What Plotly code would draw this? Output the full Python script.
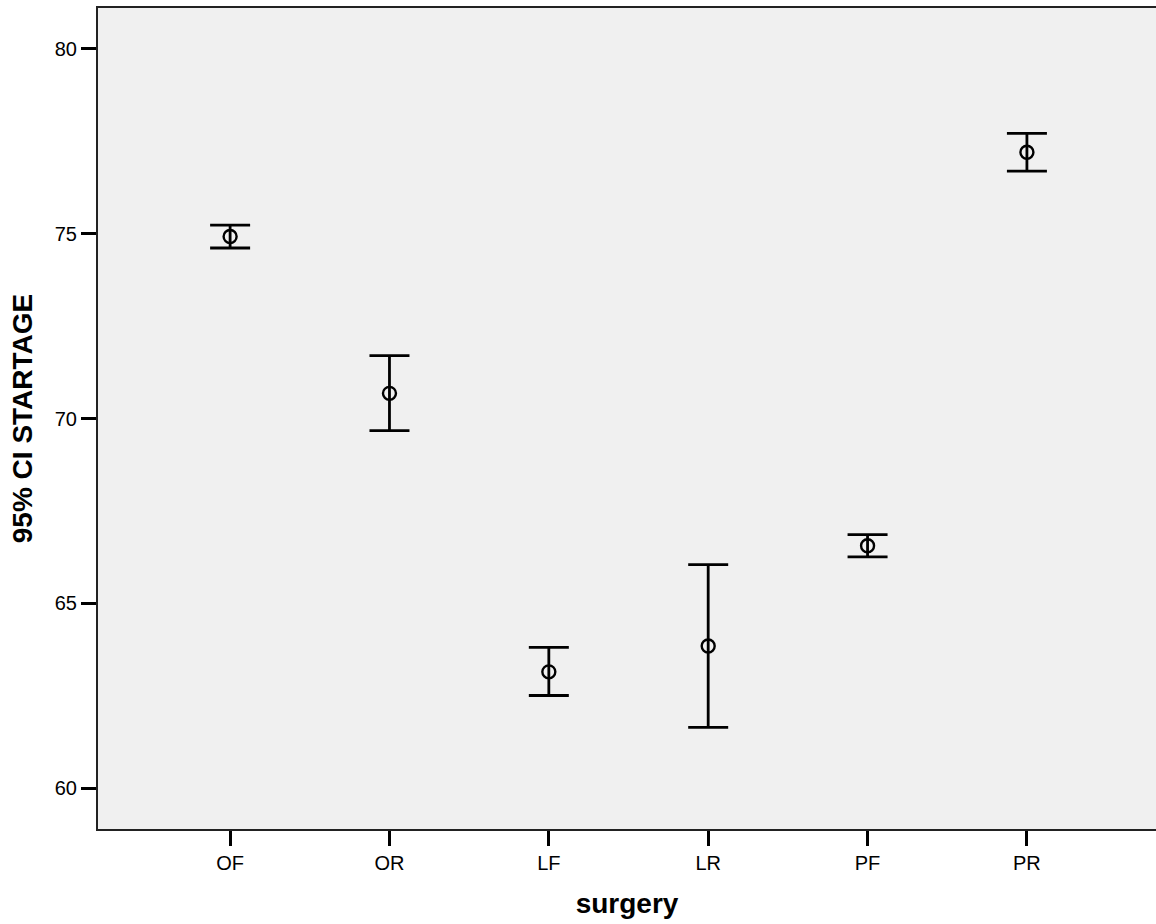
import plotly.graph_objects as go

categories = ["OF", "OR", "LF", "LR", "PF", "PR"]
means = [74.92, 70.68, 63.15, 63.85, 66.56, 77.20]
upper = [75.23, 71.70, 63.81, 66.05, 66.86, 77.71]
lower = [74.61, 69.67, 62.51, 61.65, 66.26, 76.69]
ytick_vals = [60, 65, 70, 75, 80]

err_plus = [u - m for u, m in zip(upper, means)]
err_minus = [m - l for m, l in zip(means, lower)]

fig = go.Figure()
fig.add_trace(go.Scatter(
    x=list(range(len(categories))),
    y=means,
    mode="markers",
    marker=dict(symbol="circle-open", size=13, color="black", line=dict(width=2.4, color="black")),
    error_y=dict(type="data", symmetric=False, array=err_plus, arrayminus=err_minus,
                 color="black", thickness=2.8, width=20),
    showlegend=False,
    hoverinfo="skip",
))

font_family = "Liberation Sans, Arial, sans-serif"

fig.update_layout(
    width=1156, height=924,
    margin=dict(l=98, r=0, t=8, b=95),
    paper_bgcolor="white",
    plot_bgcolor="#f0f0f0",
    font=dict(family=font_family, color="black", size=20),
    xaxis=dict(
        range=[-0.829, 5.81],
        tickmode="array",
        tickvals=list(range(len(categories))),
        ticktext=categories,
        ticks="outside", ticklen=15, tickwidth=2.8, tickcolor="black",
        showline=True, linecolor="#222222", linewidth=2, mirror=True,
        showgrid=False, zeroline=False,
        tickfont=dict(size=20, family=font_family, color="black"),
        title=dict(text="<b>surgery</b>", font=dict(size=28, family=font_family, color="black"), standoff=20),
        automargin=False,
    ),
    yaxis=dict(
        range=[58.90, 81.10],
        tickmode="array",
        tickvals=ytick_vals,
        ticktext=[str(v) for v in ytick_vals],
        ticks="outside", ticklen=15, tickwidth=2.8, tickcolor="black",
        showline=True, linecolor="#222222", linewidth=2, mirror=False,
        showgrid=False, zeroline=False,
        tickfont=dict(size=20, family=font_family, color="black"),
        title=dict(text="<b>95% CI STARTAGE</b>", font=dict(size=28, family=font_family, color="black"), standoff=14),
        automargin=False,
    ),
)

fig.write_html("out.html")
